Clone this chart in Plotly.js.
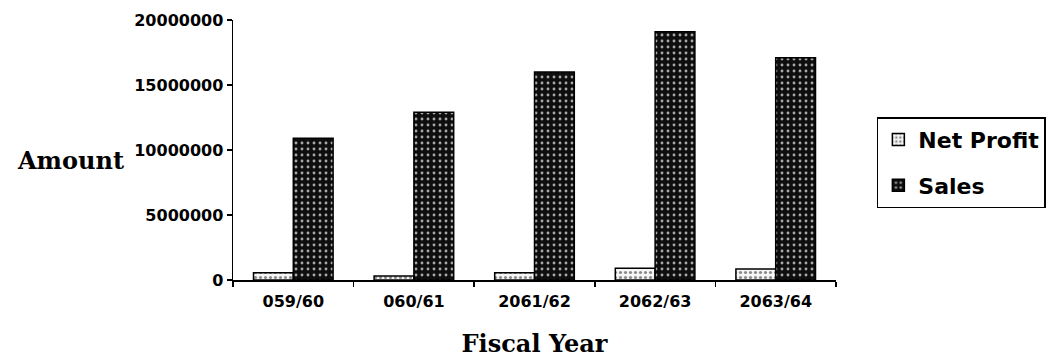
<!DOCTYPE html>
<html>
<head>
<meta charset="utf-8">
<script src="https://cdn.plot.ly/plotly-3.0.1.min.js"></script>
<style>html,body{margin:0;padding:0;background:#fff;}#chart{width:1057px;height:358px;}</style>
</head>
<body>
<div id="chart"></div>
<script>
const fiscalYears = ["059/60", "060/61", "2061/62", "2062/63", "2063/64"];
const netProfit = [550000, 300000, 550000, 900000, 850000];
const sales = [10900000, 12900000, 16000000, 19100000, 17100000];
const yTicks = [0, 5000000, 10000000, 15000000, 20000000];
const yTickText = ["0", "5000000", "10000000", "15000000", "20000000"];

const traces = [
  {
    type: "bar", name: "Net Profit", x: fiscalYears, y: netProfit, legendgroup: "a",
    marker: {
      color: "#f4f4f4",
      line: {color: "#000", width: 1.5},
      pattern: {shape: ".", bgcolor: "#f6f6f6", fgcolor: "#8a8a8a", size: 5, solidity: 0.3}
    }
  },
  {
    type: "bar", name: "Sales", x: fiscalYears, y: sales, legendgroup: "b",
    marker: {
      color: "#111",
      line: {color: "#000", width: 1.5},
      pattern: {shape: ".", bgcolor: "#0e0e0e", fgcolor: "#a8a8a8", size: 6, solidity: 0.18}
    }
  }
];

const layout = {
  width: 1057, height: 358,
  margin: {l: 233, r: 220, t: 20, b: 78, pad: 0},
  paper_bgcolor: "#fff", plot_bgcolor: "#fff",
  barmode: "group", bargap: 0.34, bargroupgap: 0,
  showlegend: true,
  legend: {
    x: 1.066, y: 0.626, xanchor: "left", yanchor: "top",
    bordercolor: "#000", borderwidth: 1.5, bgcolor: "#fff",
    font: {family: "DejaVu Sans", size: 22, color: "#000", weight: "bold"},
    tracegroupgap: 14, traceorder: "grouped"
  },
  xaxis: {
    type: "category",
    showline: true, linecolor: "#000", linewidth: 2,
    ticks: "outside", tickson: "boundaries", ticklen: 5, tickcolor: "#000", tickwidth: 1.5,
    ticklabelstandoff: 6,
    showgrid: false, zeroline: false,
    tickfont: {family: "DejaVu Sans", size: 16, color: "#000", weight: "bold"},
    title: {text: "Fiscal Year", standoff: 28,
      font: {family: "DejaVu Serif", size: 24, color: "#000", weight: "bold"}}
  },
  yaxis: {
    range: [0, 20000000],
    tickvals: yTicks, ticktext: yTickText,
    showline: true, linecolor: "#000", linewidth: 1.5,
    ticks: "outside", ticklen: 5, tickcolor: "#000", tickwidth: 1.5,
    showgrid: false, zeroline: false,
    tickfont: {family: "DejaVu Sans", size: 16, color: "#000", weight: "bold"}
  },
  annotations: [
    {text: "Amount", xref: "paper", yref: "paper", x: -0.27, y: 0.4615,
     xanchor: "center", yanchor: "middle", showarrow: false,
     font: {family: "DejaVu Serif", size: 24, color: "#000", weight: "bold"}}
  ]
};

Plotly.newPlot("chart", traces, layout, {displayModeBar: false, staticPlot: true});
</script>
</body>
</html>
